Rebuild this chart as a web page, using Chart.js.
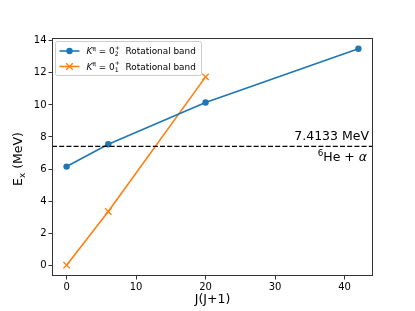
<!DOCTYPE html>
<html>
<head>
<meta charset="utf-8">
<script src="https://cdn.jsdelivr.net/npm/chart.js@4"></script>
<style>
	html, body { margin: 0; padding: 0; background: #fff; }
</style>
</head>
<body>
<canvas id="chart" width="415" height="311"></canvas>
<script>

const jValues = [ 0, 6, 20, 42 ];
const band02 = [ 6.15, 7.55, 10.15, 13.5 ];
const band01 = [ 0, 3.35, 11.75 ];
const threshold = 7.4133;
const xTicks = [ 0, 10, 20, 30, 40 ];
const yTicks = [ 0, 2, 4, 6, 8, 10, 12, 14 ];

const FONT = '"DejaVu Sans", sans-serif';
const BLUE = '#1f77b4';
const ORANGE = '#ff7f0e';
const SPINE = '#333';

// text pieces: { t, size, italic, dy } or a stacked { sup, sub, size }
function richWidth ( ctx, parts ) {

	let w = 0;
	for ( const p of parts ) {

		if ( p.sup !== undefined ) {

			ctx.font = p.size + 'px ' + FONT;
			w += Math.max( ctx.measureText( p.sup ).width, ctx.measureText( p.sub ).width );

		} else {

			ctx.font = ( p.italic ? 'italic ' : '' ) + p.size + 'px ' + FONT;
			w += ctx.measureText( p.t ).width;

		}

	}
	return w;

}

function drawRich ( ctx, x, y, parts ) {

	ctx.textBaseline = 'alphabetic';
	ctx.textAlign = 'left';
	for ( const p of parts ) {

		if ( p.sup !== undefined ) {

			ctx.font = p.size + 'px ' + FONT;
			ctx.fillText( p.sup, x, y - p.size * 0.75 );
			ctx.fillText( p.sub, x, y + p.size * 0.35 );
			x += Math.max( ctx.measureText( p.sup ).width, ctx.measureText( p.sub ).width );

		} else {

			ctx.font = ( p.italic ? 'italic ' : '' ) + p.size + 'px ' + FONT;
			ctx.fillText( p.t, x, y + ( p.dy || 0 ) );
			x += ctx.measureText( p.t ).width;

		}

	}

}

function bandLabel ( n ) {

	return [
		{ t: 'K', size: 8.9, italic: true },
		{ t: 'π', size: 6.2, dy: -3.6 },
		{ t: ' = 0', size: 8.9 },
		{ sup: '+', sub: n, size: 6.2 },
		{ t: '  Rotational band', size: 8.9 }
	];

}

const extras = {
	id: 'extras',
	afterDatasetsDraw ( chart ) {

		const { ctx, chartArea: a, scales: { y } } = chart;
		ctx.save();

		// separation threshold
		const ty = y.getPixelForValue( threshold );
		ctx.strokeStyle = '#000';
		ctx.lineWidth = 1.4;
		ctx.setLineDash( [ 5, 2.2 ] );
		ctx.beginPath();
		ctx.moveTo( a.left, ty );
		ctx.lineTo( a.right, ty );
		ctx.stroke();
		ctx.setLineDash( [] );

		ctx.fillStyle = '#000';
		const top = [ { t: threshold + ' MeV', size: 12.5 } ];
		drawRich( ctx, 369 - richWidth( ctx, top ), ty - 6, top );
		const bottom = [
			{ t: '6', size: 8.8, dy: -5.2 },
			{ t: 'He + ', size: 12.5 },
			{ t: 'α', size: 12.5, italic: true }
		];
		drawRich( ctx, 367 - richWidth( ctx, bottom ), ty + 14.5, bottom );

		// frame
		ctx.lineWidth = 1;
		ctx.strokeStyle = SPINE;
		ctx.strokeRect( a.left + 0.5, a.top + 0.5, a.right - a.left - 1, a.bottom - a.top - 1 );

		// y title
		ctx.save();
		ctx.translate( 22, ( a.top + a.bottom ) / 2 + 2 );
		ctx.rotate( - Math.PI / 2 );
		const yt = [ { t: 'E', size: 12.5 }, { t: 'x', size: 8.8, dy: 2.7 }, { t: ' (MeV)', size: 12.5 } ];
		drawRich( ctx, - richWidth( ctx, yt ) / 2, 0, yt );
		ctx.restore();

		ctx.restore();

	},
	afterDraw ( chart ) {

		const { ctx, chartArea: a } = chart;
		ctx.save();

		// legend box
		const bx = a.left + 3.5, by = a.top + 3.5, bw = 146, bh = 34;
		ctx.fillStyle = 'rgba(255,255,255,0.8)';
		ctx.strokeStyle = '#cccccc';
		ctx.lineWidth = 1;
		ctx.beginPath();
		ctx.roundRect( bx, by, bw, bh, 2 );
		ctx.fill();
		ctx.stroke();

		const rows = [
			{ colour: BLUE, marker: 'circle', n: '2', y: by + 9.5 },
			{ colour: ORANGE, marker: 'cross', n: '1', y: by + 25 }
		];
		for ( const r of rows ) {

			ctx.strokeStyle = r.colour;
			ctx.fillStyle = r.colour;
			ctx.lineWidth = 1.6;
			ctx.beginPath();
			ctx.moveTo( bx + 4, r.y );
			ctx.lineTo( bx + 24, r.y );
			ctx.stroke();
			const mx = bx + 14;
			if ( r.marker === 'circle' ) {

				ctx.beginPath();
				ctx.arc( mx, r.y, 3.2, 0, Math.PI * 2 );
				ctx.fill();

			} else {

				ctx.lineWidth = 1.3;
				ctx.beginPath();
				ctx.moveTo( mx - 3.3, r.y - 3.3 );
				ctx.lineTo( mx + 3.3, r.y + 3.3 );
				ctx.moveTo( mx - 3.3, r.y + 3.3 );
				ctx.lineTo( mx + 3.3, r.y - 3.3 );
				ctx.stroke();

			}
			ctx.fillStyle = '#000';
			drawRich( ctx, bx + 31, r.y + 3.3, bandLabel( r.n ) );

		}

		ctx.restore();

	}
};

const tickGrid = {
	drawOnChartArea: false,
	drawTicks: true,
	tickLength: 3.5,
	color: SPINE,
	lineWidth: 1
};

new Chart( document.getElementById( 'chart' ), {
	type: 'line',
	data: {
		datasets: [
			{
				data: jValues.map( ( j, i ) => ( { x: j, y: band02[ i ] } ) ),
				borderColor: BLUE,
				backgroundColor: BLUE,
				borderWidth: 1.7,
				pointStyle: 'circle',
				pointRadius: 3.2,
				pointBorderWidth: 0,
				tension: 0
			},
			{
				data: band01.map( ( e, i ) => ( { x: jValues[ i ], y: e } ) ),
				borderColor: ORANGE,
				backgroundColor: ORANGE,
				borderWidth: 1.6,
				pointStyle: 'crossRot',
				pointRadius: 4.5,
				pointBorderWidth: 1.3,
				tension: 0
			}
		]
	},
	options: {
		responsive: false,
		animation: false,
		events: [],
		layout: { padding: { left: 0, right: 42, top: 38, bottom: 4 } },
		plugins: {
			legend: { display: false },
			tooltip: { enabled: false }
		},
		scales: {
			x: {
				type: 'linear',
				min: -2.1,
				max: 44.1,
				afterBuildTicks: s => { s.ticks = xTicks.map( v => ( { value: v } ) ); },
				afterFit: s => { s.height = 31; },
				grid: tickGrid,
				border: { display: false },
				ticks: { color: '#000', font: { family: FONT, size: 10 }, padding: 2, maxRotation: 0 },
				title: { display: true, text: 'J(J+1)', color: '#000', font: { family: FONT, size: 12.5 }, padding: { top: 0, bottom: 0 } }
			},
			y: {
				type: 'linear',
				min: -0.675,
				max: 14.175,
				afterBuildTicks: s => { s.ticks = yTicks.map( v => ( { value: v } ) ); },
				afterFit: s => { s.width = 52; },
				grid: tickGrid,
				border: { display: false },
				ticks: { color: '#000', font: { family: FONT, size: 10 }, padding: 2 }
			}
		}
	},
	plugins: [ extras ]
} );

</script>
</body>
</html>
